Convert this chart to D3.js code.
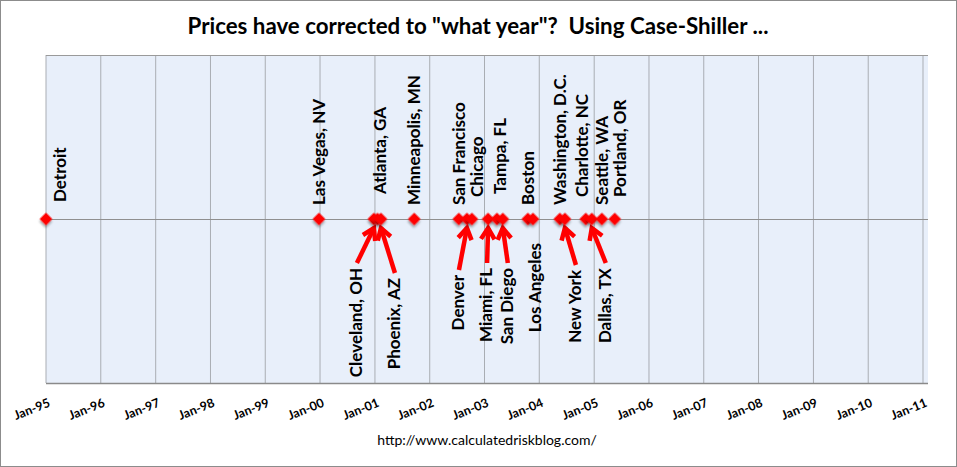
<!DOCTYPE html>
<html>
<head>
<meta charset="utf-8">
<script src="https://cdn.jsdelivr.net/npm/d3@7"></script>
<style>
  body { margin: 0; background: #fff; }
  svg { display: block; font-family: Lato, "Open Sans", sans-serif; }
</style>
</head>
<body>
<svg id="chart" width="957" height="467"></svg>
<script>
// cities, the date each one has corrected to, and which side of the line it is labelled on
const cities = ['Detroit', 'Las Vegas, NV', 'Cleveland, OH', 'Atlanta, GA', 'Phoenix, AZ', 'Minneapolis, MN',
  'San Francisco', 'Denver', 'Chicago', 'Miami, FL', 'Tampa, FL', 'San Diego', 'Boston', 'Los Angeles',
  'Washington, D.C.', 'New York', 'Charlotte, NC', 'Dallas, TX', 'Seattle, WA', 'Portland, OR'];
const dates = ['1995-01-01', '1999-12-25', '2000-12-25', '2001-01-18', '2001-02-10', '2001-09-20',
  '2002-07-14', '2002-09-06', '2002-10-09', '2003-01-25', '2003-03-25', '2003-05-03', '2003-10-17', '2003-11-20',
  '2004-05-17', '2004-06-20', '2004-11-06', '2004-12-16', '2005-02-21', '2005-05-18'];
const sides = ['up', 'up', 'down', 'up', 'down', 'up',
  'up', 'down', 'up', 'down', 'up', 'down', 'up', 'down',
  'up', 'down', 'up', 'down', 'up', 'up'];
const tickYears = d3.range(1995, 2012);

const svg = d3.select('#chart');
const W = 957, H = 467;
const margin = { top: 55, right: 34, bottom: 84, left: 46 };
const innerH = H - margin.top - margin.bottom;

const parse = d3.timeParse('%Y-%m-%d');
const x = d3.scaleTime()
  .domain([new Date(1995, 0, 1), new Date(2011, 0, 1)])
  .range([margin.left, W - margin.right]);
const midY = 219;

// label nudges so crowded names don't collide
// up: [dx, y of the text's bottom]   down: [dx, y of the text's top]
const nudge = {
  'Detroit': [14, 202], 'Atlanta, GA': [3, 194], 'Chicago': [5, 197], 'Tampa, FL': [3, 194],
  'Charlotte, NC': [-4, 197], 'Portland, OR': [5, 197],
  'Cleveland, OH': [-18, 268], 'Phoenix, AZ': [13, 278], 'Denver': [-9, 275], 'Miami, FL': [-2, 268],
  'San Diego': [4, 268], 'Los Angeles': [2, 243], 'New York': [10, 270], 'Dallas, TX': [13, 268]
};
const nudgeOf = d => nudge[d.city] || [0, d.side === 'up' ? 205 : 268];

const data = cities.map((c, i) => ({ city: c, date: parse(dates[i]), side: sides[i] }));

// outer frame
svg.append('rect')
  .attr('x', 0.5).attr('y', 0.5).attr('width', W - 1).attr('height', H - 1)
  .attr('fill', '#fff').attr('stroke', '#8c8c8c');

// drop shadow for the markers
const defs = svg.append('defs');
const f = defs.append('filter').attr('id', 'shadow').attr('x', '-50%').attr('y', '-50%')
  .attr('width', '200%').attr('height', '200%');
f.append('feDropShadow').attr('dx', 1.5).attr('dy', 2).attr('stdDeviation', 1)
  .attr('flood-color', '#000').attr('flood-opacity', 0.35);

// plot background
svg.append('rect')
  .attr('x', margin.left).attr('y', margin.top)
  .attr('width', W - margin.right - margin.left + 5).attr('height', innerH)
  .attr('fill', '#e8effa');

// vertical gridlines
svg.append('g')
  .selectAll('line')
  .data(tickYears)
  .enter()
  .append('line')
  .attr('x1', d => x(new Date(d, 0, 1)))
  .attr('x2', d => x(new Date(d, 0, 1)))
  .attr('y1', margin.top)
  .attr('y2', margin.top + innerH)
  .style('stroke', '#a9adb3')
  .style('stroke-width', 1);

// top border, middle line, bottom axis line
svg.append('line')
  .attr('x1', margin.left).attr('x2', W - margin.right + 5)
  .attr('y1', margin.top + 0.5).attr('y2', margin.top + 0.5)
  .style('stroke', '#9a9a9a');
svg.append('line')
  .attr('x1', margin.left).attr('x2', W - margin.right + 5)
  .attr('y1', midY + 0.5).attr('y2', midY + 0.5)
  .style('stroke', '#8f8f8f');
svg.append('line')
  .attr('x1', margin.left).attr('x2', W - margin.right + 5)
  .attr('y1', margin.top + innerH + 0.5).attr('y2', margin.top + innerH + 0.5)
  .style('stroke', '#8a8a8a').style('stroke-width', 1.5);

// x tick labels, slanted
const fmt = d3.timeFormat('Jan-%y');
svg.append('g')
  .selectAll('text')
  .data(tickYears)
  .enter()
  .append('text')
  .attr('transform', d => `translate(${x(new Date(d, 0, 1)) + 5},${406}) rotate(-22)`)
  .attr('text-anchor', 'end')
  .style('font-size', '12.5px')
  .style('font-weight', 'bold')
  .style('fill', '#000')
  .text(d => fmt(new Date(d, 0, 1)));

// arrows for the labels below the line
const arrows = svg.append('g');
data.filter(d => d.side === 'down' && d.city !== 'Los Angeles').forEach(d => {
  const px = x(d.date);
  const n = nudgeOf(d);
  const sx = px + n[0] + 1, sy = n[1] - 5;
  const tx = px, ty = midY + 9;
  const ang = Math.atan2(sy - ty, sx - tx);
  const len = 13, spread = 0.55;
  arrows.append('line')
    .attr('x1', sx).attr('y1', sy).attr('x2', tx).attr('y2', ty)
    .style('stroke', '#ff0000').style('stroke-width', 4.5);
  arrows.append('path')
    .attr('d', `M${tx + len * Math.cos(ang - spread)},${ty + len * Math.sin(ang - spread)}L${tx},${ty}L${tx + len * Math.cos(ang + spread)},${ty + len * Math.sin(ang + spread)}`)
    .style('fill', 'none').style('stroke', '#ff0000').style('stroke-width', 4.5)
    .style('stroke-linejoin', 'miter');
});

// markers
svg.append('g')
  .selectAll('path')
  .data(data)
  .enter()
  .append('path')
  .attr('d', d3.symbol(d3.symbolSquare, 80))
  .attr('transform', d => `translate(${x(d.date)},${midY}) rotate(45)`)
  .attr('fill', '#ff0000')
  .attr('filter', 'url(#shadow)');

// city labels: above the line they read upward from a baseline, below they hang from a top line
svg.append('g')
  .selectAll('text')
  .data(data)
  .enter()
  .append('text')
  .attr('transform', d => {
    const n = nudgeOf(d);
    return `translate(${x(d.date) + n[0]},${n[1]}) rotate(-90)`;
  })
  .attr('text-anchor', d => d.side === 'up' ? 'start' : 'end')
  .attr('dy', '0.35em')
  .style('font-size', '17px')
  .style('font-weight', 'bold')
  .style('fill', '#000')
  .text(d => d.city);

// title
svg.append('text')
  .attr('x', 478)
  .attr('y', 34)
  .attr('text-anchor', 'middle')
  .style('font-size', '22.3px')
  .style('font-weight', 'bold')
  .style('white-space', 'pre')
  .text('Prices have corrected to "what year"?  Using Case-Shiller ...');

// source
svg.append('text')
  .attr('x', 487)
  .attr('y', 445)
  .attr('text-anchor', 'middle')
  .style('font-size', '14px')
  .text('http://www.calculatedriskblog.com/');
</script>
</body>
</html>
